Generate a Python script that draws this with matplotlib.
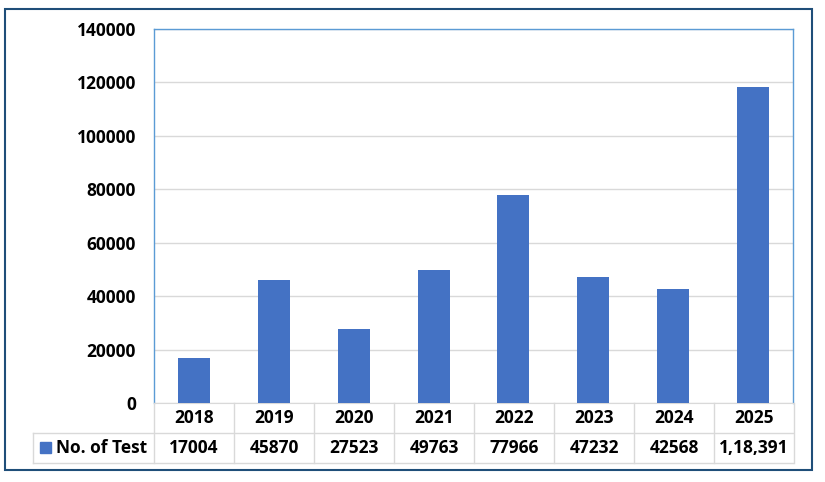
import matplotlib.pyplot as plt
from matplotlib.patches import Rectangle
from matplotlib.lines import Line2D

years = ['2018', '2019', '2020', '2021', '2022', '2023', '2024', '2025']
tests = [17004, 45870, 27523, 49763, 77966, 47232, 42568, 118391]
table_labels = ['17004', '45870', '27523', '49763', '77966', '47232', '42568',
                '1,18,391']
series_name = 'No. of Test'

bar_color = '#4472C4'
grid_color = '#D9D9D9'
font = 'Open Sans'

fig = plt.figure(figsize=(8.25, 4.82), dpi=100)
W, H = 825, 482


def fx(px):
    return px / W


def fy(py):
    return 1 - py / H


ax = fig.add_axes([fx(154), fy(403), fx(793) - fx(154), fy(29) - fy(403)])
x = list(range(len(years)))
ax.bar(x, tests, width=0.4, color=bar_color, zorder=3)
ax.set_xlim(-0.5, len(years) - 0.5)
ax.set_ylim(0, 140000)
ax.set_yticks(range(0, 140001, 20000))
ax.set_yticklabels([str(v) for v in range(0, 140001, 20000)],
                   fontfamily=font, fontweight='bold', fontsize=12.5)
ax.tick_params(axis='y', length=0, pad=13)
ax.set_xticks([])
ax.grid(axis='y', color=grid_color, linewidth=1, zorder=0)
for side in ['left', 'top', 'right']:
    ax.spines[side].set_color('#5B9BD5')
    ax.spines[side].set_linewidth(1)
ax.spines['bottom'].set_color(grid_color)

# data table below the axes
lines = []
lines.append(Line2D([fx(33), fx(793)], [fy(433), fy(433)]))
lines.append(Line2D([fx(33), fx(793)], [fy(463), fy(463)]))
lines.append(Line2D([fx(33), fx(33)], [fy(433), fy(463)]))
for i in range(len(years) + 1):
    xp = 154 + 80 * i
    lines.append(Line2D([fx(xp), fx(xp)], [fy(403), fy(463)]))
for ln in lines:
    ln.set_color(grid_color)
    ln.set_linewidth(1)
    fig.add_artist(ln)

for i, (yr, lab) in enumerate(zip(years, table_labels)):
    xc = 154 + 80 * i + 40
    fig.text(fx(xc), fy(418), yr, ha='center', va='center',
             fontfamily=font, fontweight='bold', fontsize=12.5)
    fig.text(fx(xc), fy(448), lab, ha='center', va='center',
             fontfamily=font, fontweight='bold', fontsize=12.5)

fig.add_artist(Rectangle((fx(40), fy(453)), fx(11), fx(11) * W / H,
                         color=bar_color, transform=fig.transFigure))
fig.text(fx(56), fy(448), series_name, ha='left', va='center',
         fontfamily=font, fontweight='bold', fontsize=12.5)

# outer chart border
fig.add_artist(Rectangle((fx(5), fy(470)), fx(812) - fx(5), fy(9) - fy(470),
                         fill=False, edgecolor='#1F4E79', linewidth=1.5,
                         transform=fig.transFigure))

fig.savefig('out.png', dpi=100)
